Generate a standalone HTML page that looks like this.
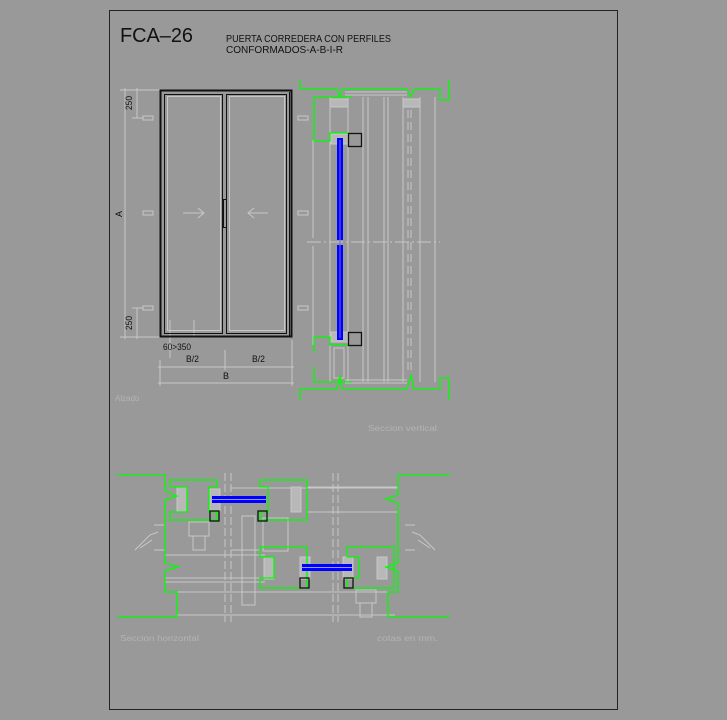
<!DOCTYPE html>
<html><head><meta charset="utf-8"><style>
html,body{margin:0;padding:0;background:#999;}
svg{display:block}
text{font-family:"Liberation Sans",sans-serif;}
</style></head><body>
<svg width="727" height="720" viewBox="0 0 727 720" xmlns="http://www.w3.org/2000/svg">
<rect width="727" height="720" fill="#999"/>
<rect x="109.5" y="10.5" width="508" height="699" fill="none" stroke="#222" stroke-width="1"/>
<text x="120" y="42" font-size="20" fill="#111" font-weight="300" textLength="73" lengthAdjust="spacingAndGlyphs">FCA–26</text>
<text x="226" y="42" font-size="10" fill="#111" textLength="165" lengthAdjust="spacingAndGlyphs">PUERTA CORREDERA CON PERFILES</text>
<text x="226" y="53" font-size="10" fill="#111" textLength="117" lengthAdjust="spacingAndGlyphs">CONFORMADOS-A-B-I-R</text>

<!-- ALZADO -->
<g fill="none" stroke="#c8c8c8" stroke-width="1">
<line x1="125" y1="88" x2="125" y2="339"/>
<line x1="137" y1="88" x2="137" y2="118"/>
<line x1="137" y1="308" x2="137" y2="339"/>
<line x1="120" y1="90" x2="160" y2="90"/><line x1="120" y1="337" x2="160" y2="337"/>
<line x1="132" y1="118" x2="143" y2="118"/><line x1="132" y1="308" x2="143" y2="308"/>
<rect x="143" y="116" width="10" height="4"/><rect x="143" y="211" width="10" height="4"/><rect x="143" y="306" width="10" height="4"/>
<rect x="298" y="116" width="10" height="4"/><rect x="298" y="211" width="10" height="4"/><rect x="298" y="306" width="10" height="4"/>
<line x1="183" y1="213" x2="204" y2="213"/><polyline points="198,208 204,213 198,218"/>
<line x1="248" y1="213" x2="268" y2="213"/><polyline points="254,208 248,213 254,218"/>
<rect x="167.5" y="96.5" width="53" height="234"/>
<rect x="229.5" y="96.5" width="55" height="234"/>
<line x1="160" y1="360" x2="160" y2="386"/><line x1="225" y1="350" x2="225" y2="370"/><line x1="292" y1="340" x2="292" y2="386"/>
<line x1="158" y1="367" x2="294" y2="367"/><line x1="158" y1="383" x2="294" y2="383"/>
<line x1="170" y1="320" x2="170" y2="358"/><line x1="194" y1="320" x2="194" y2="338"/>
</g>
<g fill="none" stroke="#111">
<rect x="160.5" y="90.5" width="131" height="246" stroke-width="2"/>
<rect x="164.5" y="94.5" width="58" height="239"/>
<rect x="226.5" y="94.5" width="60" height="239"/>
<rect x="223.5" y="199.5" width="3" height="28"/>
<line x1="289.5" y1="92" x2="289.5" y2="336"/>
</g>
<g fill="#111" font-size="9">
<text transform="translate(132,110) rotate(-90)" textLength="14" lengthAdjust="spacingAndGlyphs">250</text>
<text transform="translate(122,217) rotate(-90)">A</text>
<text transform="translate(132,330) rotate(-90)" textLength="14" lengthAdjust="spacingAndGlyphs">250</text>
<text x="163" y="350" textLength="28" lengthAdjust="spacingAndGlyphs">60&gt;350</text>
<text x="186" y="362" textLength="13" lengthAdjust="spacingAndGlyphs">B/2</text>
<text x="252" y="362" textLength="13" lengthAdjust="spacingAndGlyphs">B/2</text>
<text x="223" y="379">B</text>
</g>
<text x="115" y="401" font-size="8" fill="#b4b4b4">Alzado</text>

<!-- SECCION VERTICAL -->
<g fill="none" stroke="#c8c8c8">
<line x1="330" y1="97" x2="330" y2="382"/><line x1="348" y1="97" x2="348" y2="382"/>
<line x1="363" y1="97" x2="363" y2="382"/><line x1="368" y1="97" x2="368" y2="382"/>
<line x1="384" y1="97" x2="384" y2="382"/><line x1="388" y1="97" x2="388" y2="382"/>
<line x1="403" y1="97" x2="403" y2="382"/><line x1="420" y1="97" x2="420" y2="382"/>
<line x1="435" y1="97" x2="435" y2="382"/>
<line x1="408" y1="110" x2="408" y2="370" stroke-dasharray="8,4"/><line x1="411" y1="110" x2="411" y2="370" stroke-dasharray="8,4"/>
<line x1="307" y1="242" x2="440" y2="242" stroke-dasharray="14,3,2,3"/>
<line x1="313" y1="140" x2="313" y2="238"/><line x1="313" y1="246" x2="313" y2="345"/>
<line x1="345" y1="92" x2="407" y2="92"/><line x1="345" y1="95" x2="407" y2="95"/>
<line x1="345" y1="380" x2="407" y2="380"/><line x1="345" y1="383" x2="407" y2="383"/>
<rect x="330" y="99" width="18" height="8" fill="#b8b8b8"/><rect x="403" y="99" width="17" height="8" fill="#b8b8b8"/>
<rect x="331" y="134" width="17" height="10" fill="#b8b8b8"/><rect x="331" y="332" width="17" height="10" fill="#b8b8b8"/>
<rect x="334" y="348" width="10" height="30"/>
</g>
<g fill="none" stroke="#00ff00" stroke-width="1.3">
<polyline points="300,80 300,89 337,89 340,97 342,89 407,89 411,97 414,89 440,89 440,100 449,100 449,80"/>
<polyline points="352,97 314,97 314,141 330,141 330,133 348,133"/>
<polyline points="348,345 330,345 330,337 314,337 314,352"/>
<polyline points="314,367 314,382 352,382"/>
<polyline points="300,400 300,389 337,389 340,375 342,389 407,389 411,375 414,389 440,389 440,378 449,378 449,400"/>
</g>
<rect x="337" y="138" width="6" height="102" fill="#0000ff"/>
<rect x="337" y="245" width="6" height="95" fill="#0000ff"/>
<line x1="340" y1="140" x2="340" y2="338" stroke="#6a6aff" stroke-width="1"/>
<g fill="none" stroke="#111" stroke-width="1.3">
<rect x="348.5" y="133.5" width="13" height="13"/><rect x="348.5" y="332.5" width="13" height="13"/>
</g>
<text x="368" y="431" font-size="8" fill="#b4b4b4" textLength="69" lengthAdjust="spacingAndGlyphs">Seccion vertical</text>

<!-- SECCION HORIZONTAL -->
<g fill="none" stroke="#c8c8c8">
<line x1="225" y1="473" x2="225" y2="622" stroke-dasharray="8,3"/><line x1="231" y1="473" x2="231" y2="622" stroke-dasharray="8,3"/>
<line x1="333" y1="473" x2="333" y2="622" stroke-dasharray="8,3"/><line x1="338" y1="473" x2="338" y2="622" stroke-dasharray="8,3"/>
<line x1="231" y1="488" x2="398" y2="488"/><line x1="307" y1="487" x2="398" y2="487"/>
<line x1="307" y1="512" x2="398" y2="512"/>
<line x1="165" y1="555" x2="265" y2="555"/><line x1="165" y1="578" x2="265" y2="578"/><line x1="165" y1="582" x2="265" y2="582"/>
<line x1="176" y1="592" x2="395" y2="592"/><line x1="176" y1="615" x2="395" y2="615"/>
<line x1="231" y1="550" x2="260" y2="550"/>
<rect x="242" y="516" width="13" height="89"/>
<rect x="189" y="522" width="20" height="14"/><rect x="193" y="536" width="12" height="14"/>
<rect x="356" y="590" width="20" height="13"/><rect x="360" y="603" width="12" height="14"/>
<rect x="263" y="518" width="25" height="33"/>
<polyline points="135,550 150,535 158,532"/><polyline points="140,548 152,540"/>
<polyline points="435,550 420,535 412,532"/><polyline points="430,548 418,540"/>
<line x1="154" y1="525" x2="165" y2="525"/><line x1="154" y1="550" x2="165" y2="550"/>
<line x1="405" y1="525" x2="415" y2="525"/><line x1="405" y1="550" x2="415" y2="550"/>
<rect x="177" y="487" width="10" height="25" fill="#b8b8b8"/><rect x="210" y="489" width="10" height="22" fill="#b8b8b8"/>
<rect x="291" y="487" width="10" height="25" fill="#b8b8b8"/>
<rect x="264" y="557" width="10" height="22" fill="#b8b8b8"/><rect x="300" y="557" width="10" height="22" fill="#b8b8b8"/>
<rect x="377" y="557" width="10" height="22" fill="#b8b8b8"/><rect x="343" y="557" width="10" height="22" fill="#b8b8b8"/>
</g>
<g fill="none" stroke="#00ff00" stroke-width="1.3">
<polyline points="117,475 165,475 165,491 177,496 165,500 165,563 178,567 165,571 165,592 177,592 177,617 117,617"/>
<polyline points="450,475 398,475 398,495 386,499 398,503 398,563 386,567 398,571 398,592 388,592 388,617 450,617"/>
<polygon points="170,480 217,480 217,487 209,487 209,512 217,512 217,520 170,520 170,512 187,512 187,487 170,487"/>
<polygon points="260,480 307,480 307,520 260,520 260,512 268,512 268,487 260,487"/>
<polygon points="260,547 307,547 307,588 260,588 260,578 274,578 274,557 260,557"/>
<polygon points="347,547 394,547 394,588 347,588 347,578 359,578 359,557 347,557"/>
</g>
<rect x="212" y="496" width="54" height="7" fill="#0000ff"/>
<line x1="212" y1="499.5" x2="266" y2="499.5" stroke="#9a9aff"/>
<rect x="302" y="564" width="50" height="7" fill="#0000ff"/>
<line x1="302" y1="567.5" x2="352" y2="567.5" stroke="#9a9aff"/>
<g fill="none" stroke="#111" stroke-width="1.3">
<rect x="210" y="511" width="9" height="10"/><rect x="258" y="511" width="9" height="10"/>
<rect x="300" y="578" width="9" height="10"/><rect x="344" y="578" width="9" height="10"/>
</g>
<text x="120" y="641" font-size="8" fill="#b4b4b4" textLength="79" lengthAdjust="spacingAndGlyphs">Seccion horizontal</text>
<text x="377" y="641" font-size="8" fill="#b4b4b4" textLength="61" lengthAdjust="spacingAndGlyphs">cotas en mm.</text>
</svg>
</body></html>
